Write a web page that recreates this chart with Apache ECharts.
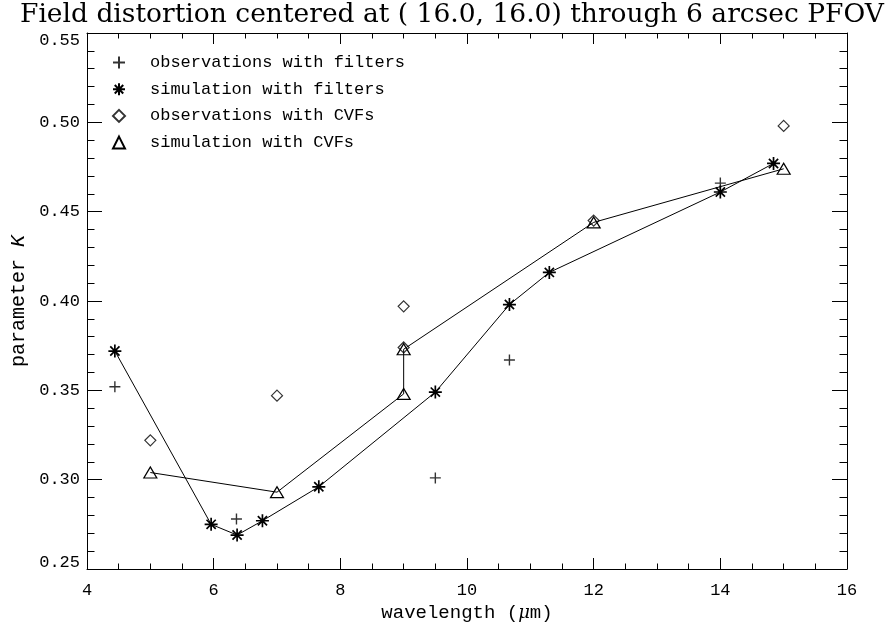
<!DOCTYPE html>
<html>
<head>
<meta charset="utf-8">
<title>Field distortion</title>
<script src="https://cdn.jsdelivr.net/npm/echarts@6/dist/echarts.min.js"></script>
<style>
  html, body { margin: 0; padding: 0; background: #fff; }
  #chart { width: 888px; height: 631px; }
</style>
</head>
<body>
<div id="chart"></div>
<script>
// Tick labels for the two axes
const xTicks = [4, 6, 8, 10, 12, 14, 16];
const yTicks = ['0.25', '0.30', '0.35', '0.40', '0.45', '0.50', '0.55'];

// Observations with broad-band filters
const obsFilterX = [4.44, 6.36, 9.50, 10.67, 14.00];
const obsFilterK = [0.352, 0.278, 0.301, 0.367, 0.466];

// Simulation with broad-band filters
const simFilterX = [4.44, 5.96, 6.37, 6.77, 7.66, 9.50, 10.67, 11.30, 14.00, 14.84];
const simFilterK = [0.372, 0.275, 0.269, 0.277, 0.296, 0.349, 0.398, 0.416, 0.461, 0.477];

// Observations with the circular variable filters
const obsCvfX = [5, 7, 9, 9, 12, 15];
const obsCvfK = [0.322, 0.347, 0.397, 0.374, 0.445, 0.498];

// Simulation with the circular variable filters
const simCvfX = [5, 7, 9, 9, 12, 15];
const simCvfK = [0.304, 0.293, 0.348, 0.373, 0.444, 0.474];

const names = [
  'observations with filters',
  'simulation with filters',
  'observations with CVFs',
  'simulation with CVFs'
];

const PLUS = 'path://M0,5L10,5M5,0L5,10';
const STAR = 'path://M0,5L10,5M5,0L5,10M1.46,1.46L8.54,8.54M8.54,1.46L1.46,8.54';

const pairs = (xs, ys) => xs.map((x, i) => [x, ys[i]]);

const MONO = 'Liberation Mono';

const xMin = xTicks[0], xMax = xTicks[xTicks.length - 1], xStep = xTicks[1] - xTicks[0];
const yMin = +yTicks[0], yMax = +yTicks[yTicks.length - 1];
const yStep = +(yTicks[1] - yTicks[0]).toFixed(4);

const axisCommon = {
  axisLine: { show: true, onZero: false, lineStyle: { color: '#000', width: 1 } },
  splitLine: { show: false },
  minorSplitLine: { show: false }
};

function xAxisDef(pos, labels) {
  return Object.assign({
    type: 'value', position: pos, min: xMin, max: xMax, interval: xStep,
    axisTick: { show: true, inside: true, length: 11, lineStyle: { color: '#000' } },
    minorTick: { show: true, splitNumber: 4, length: 5.5, lineStyle: { color: '#000' } },
    axisLabel: {
      show: labels, margin: 13, color: '#000', fontFamily: MONO, fontSize: 17,
      formatter: v => String(v)
    }
  }, axisCommon);
}

function yAxisDef(pos, labels) {
  return Object.assign({
    type: 'value', position: pos, min: yMin, max: yMax, interval: yStep,
    axisTick: { show: true, inside: true, length: 15, lineStyle: { color: '#000' } },
    minorTick: { show: true, splitNumber: 5, length: 7.5, lineStyle: { color: '#000' } },
    axisLabel: {
      show: labels, margin: 7, color: '#000', fontFamily: MONO, fontSize: 17,
      lineHeight: 14,
      verticalAlignMinLabel: 'bottom',
      verticalAlignMaxLabel: 'top',
      formatter: v => v.toFixed(2)
    }
  }, axisCommon);
}

const xBottom = xAxisDef('bottom', true);
xBottom.name = 'wavelength ({g|μ}m)';
xBottom.nameLocation = 'middle';
xBottom.nameGap = 27;
xBottom.nameTextStyle = {
  color: '#000', fontFamily: MONO, fontSize: 19,
  rich: { g: { fontFamily: 'DejaVu Serif', fontStyle: 'italic', fontSize: 18, color: '#000' } }
};

const yLeft = yAxisDef('left', true);
yLeft.name = 'parameter {i|K}';
yLeft.nameLocation = 'middle';
yLeft.nameGap = 56;
yLeft.nameTextStyle = {
  color: '#000', fontFamily: MONO, fontSize: 20,
  rich: { i: { fontFamily: MONO, fontStyle: 'italic', fontSize: 20, color: '#000' } }
};

const markerStyle = { color: 'transparent', borderColor: '#000', borderWidth: 1.2 };

const option = {
  animation: false,
  backgroundColor: '#fff',
  title: {
    text: 'Field distortion centered at ( 16.0, 16.0) through 6 arcsec PFOV',
    left: 15, top: -3,
    textStyle: { fontFamily: 'DejaVu Serif', fontSize: 26.5, fontWeight: 'normal', color: '#000' }
  },
  grid: { left: 87, right: 41, top: 33, bottom: 62 },
  legend: {
    orient: 'vertical', left: 107, top: 49,
    itemWidth: 12, itemHeight: 12, itemGap: 9.7,
    selectedMode: false,
    textStyle: { fontFamily: MONO, fontSize: 17, lineHeight: 17, color: '#000', padding: [0, 0, 0, 20] },
    data: [
      { name: names[0], icon: PLUS },
      { name: names[1], icon: STAR },
      { name: names[2], icon: 'diamond' },
      { name: names[3], icon: 'triangle' }
    ]
  },
  xAxis: [xBottom, xAxisDef('top', false)],
  yAxis: [yLeft, yAxisDef('right', false)],
  series: [
    {
      name: names[0], type: 'scatter', silent: true,
      symbol: PLUS, symbolSize: 11,
      itemStyle: { color: 'transparent', borderColor: '#000', borderWidth: 1.4 },
      data: pairs(obsFilterX, obsFilterK)
    },
    {
      name: names[1], type: 'line', silent: true,
      symbol: STAR, symbolSize: 13, showSymbol: true,
      itemStyle: { color: 'transparent', borderColor: '#000', borderWidth: 1.7 },
      lineStyle: { color: '#000', width: 1 },
      data: pairs(simFilterX, simFilterK)
    },
    {
      name: names[2], type: 'scatter', silent: true,
      symbol: 'diamond', symbolSize: [11, 11],
      itemStyle: markerStyle,
      data: pairs(obsCvfX, obsCvfK)
    },
    {
      name: names[3], type: 'line', silent: true,
      symbol: 'triangle', symbolSize: [13, 11], showSymbol: true,
      itemStyle: markerStyle,
      lineStyle: { color: '#000', width: 1 },
      data: pairs(simCvfX, simCvfK)
    }
  ]
};

const chart = echarts.init(document.getElementById('chart'), null, { renderer: 'canvas' });
chart.setOption(option);
</script>
</body>
</html>
